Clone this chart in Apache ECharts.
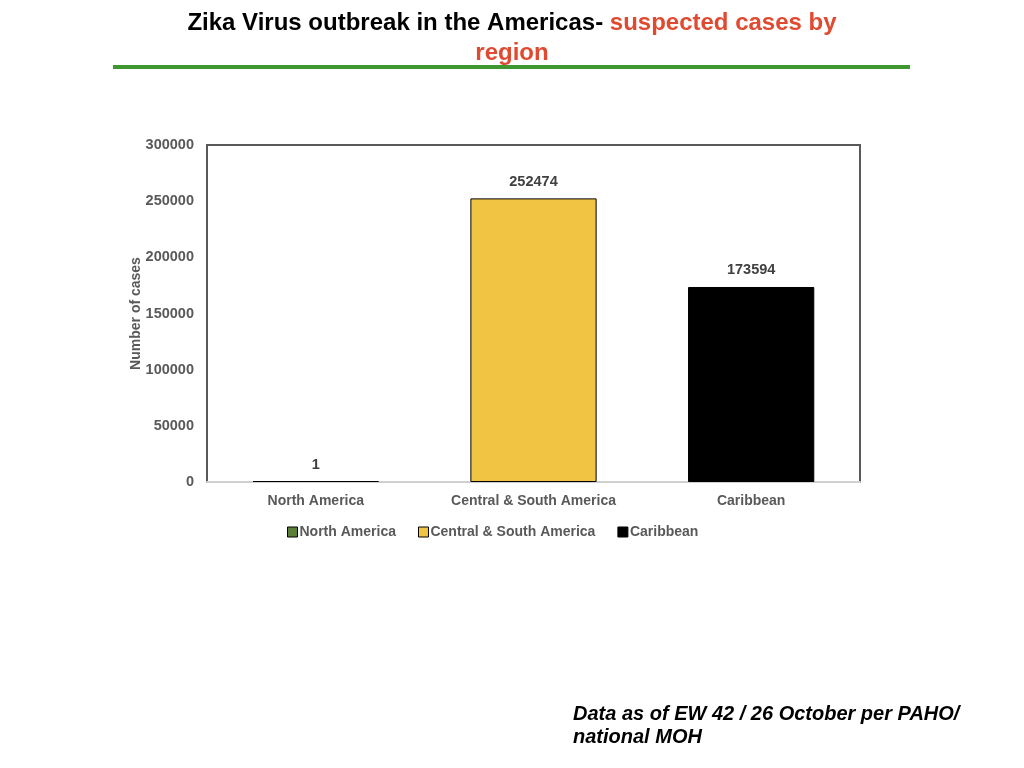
<!DOCTYPE html>
<html>
<head>
<meta charset="utf-8">
<script src="https://cdn.jsdelivr.net/npm/echarts@6/dist/echarts.min.js"></script>
<style>
  html, body { margin: 0; padding: 0; background: #fff; }
  #chart { width: 1024px; height: 768px; }
</style>
</head>
<body>
<div id="chart"></div>
<script>
// regions and suspected case counts
const regions = ['North America', 'Central & South America', 'Caribbean']
const cases = [1, 252474, 173594]
const regionColors = ['#5b7f3b', '#f2c444', '#000000']
const yTicks = { min: 0, max: 300000, step: 50000 }

const chart = echarts.init(document.getElementById('chart'))

const boldFont = { fontFamily: 'Liberation Sans', fontWeight: 'bold' }

// one series per region so the legend gets three entries, stacked so bars stay centred
const series = regions.map((name, i) => ({
  name,
  type: 'bar',
  stack: 'all',
  barWidth: '58%',
  barMinHeight: 1,
  data: regions.map((r, j) => (j === i ? cases[i] : '-')),
  itemStyle: { color: regionColors[i], borderColor: '#000', borderWidth: 1 },
  label: {
    show: true,
    position: 'top',
    distance: 9,
    color: '#404040',
    ...boldFont,
    fontSize: 14.5
  }
}))

chart.setOption({
  animation: false,
  legend: {
    data: regions,
    top: 520,
    left: 282,
    itemWidth: 10,
    itemHeight: 10,
    itemGap: 22,
    icon: 'rect',
    itemStyle: { borderColor: '#000', borderWidth: 1 },
    textStyle: { color: '#595959', ...boldFont, fontSize: 14, padding: [0, 0, 0, -3] }
  },
  grid: {
    left: 207,
    right: 164,
    top: 145,
    bottom: 286,
    show: true,
    borderColor: '#595959',
    borderWidth: 2
  },
  xAxis: {
    type: 'category',
    data: regions,
    axisTick: { show: false },
    axisLine: { lineStyle: { color: '#d0d0d0', width: 2 } },
    axisLabel: { color: '#595959', ...boldFont, fontSize: 14, margin: 12 }
  },
  yAxis: {
    type: 'value',
    min: yTicks.min,
    max: yTicks.max,
    interval: yTicks.step,
    name: 'Number of cases',
    nameLocation: 'middle',
    nameGap: 64,
    nameMoveOverlap: false,
    nameTextStyle: { color: '#595959', ...boldFont, fontSize: 14 },
    splitLine: { show: false },
    axisLine: { show: false },
    axisTick: { show: false },
    axisLabel: {
      color: '#595959',
      ...boldFont,
      fontSize: 14.5,
      margin: 13,
      formatter: (v) => String(v)
    }
  },
  graphic: [
    {
      type: 'text',
      x: 512,
      y: 23,
      style: {
        text: '{b|Zika Virus outbreak in the Americas- }{r|suspected cases by}',
        align: 'center',
        verticalAlign: 'middle',
        rich: {
          b: { fill: '#000', ...boldFont, fontSize: 24 },
          r: { fill: '#e04a30', ...boldFont, fontSize: 24 }
        }
      }
    },
    {
      type: 'text',
      x: 512,
      y: 53,
      style: {
        text: 'region',
        align: 'center',
        verticalAlign: 'middle',
        fill: '#e04a30',
        font: 'bold 24px "Liberation Sans"'
      }
    },
    {
      type: 'rect',
      shape: { x: 113, y: 65, width: 797, height: 4 },
      style: { fill: '#3f982f' }
    },
    {
      type: 'text',
      left: 573,
      top: 703,
      style: {
        text: 'Data as of EW 42 / 26 October per PAHO/\nnational MOH',
        fill: '#000',
        font: 'italic bold 20px "Liberation Sans"',
        lineHeight: 23
      }
    }
  ],
  series
})
</script>
</body>
</html>
